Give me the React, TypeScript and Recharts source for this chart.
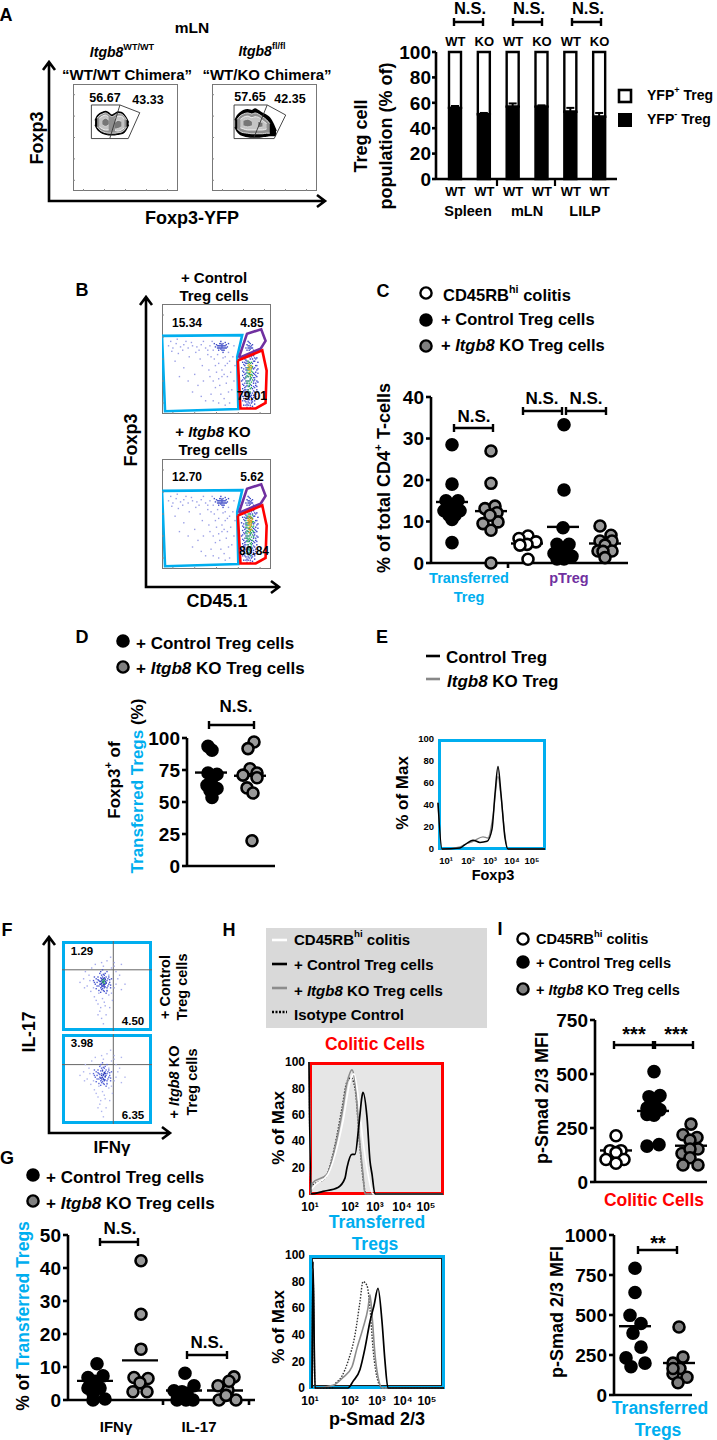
import React from "react";
import {
  AreaChart,
  Area,
  Bar,
  BarChart,
  ErrorBar,
  Line,
  LineChart,
  ReferenceLine,
  Scatter,
  ScatterChart,
  XAxis,
  YAxis,
} from "recharts";

const FONT = '"Liberation Sans", Arial, sans-serif';
const BLUE = "#00aeef";
const RED = "#ff0000";
const PURPLE = "#7030a0";
const GREY = "#999999";
const DARK_GREY = "#808080";

// Panel A stacked bars
const barLower = ["WT", "WT", "WT", "WT", "WT", "WT"];
const barUpper = ["WT", "KO", "WT", "KO", "WT", "KO"];
const yfpNeg = [56, 51, 57, 57, 53, 49];
const yfpNegErr = [1.5, 1, 2.5, 1, 3, 3];
const yfpPos = [44, 49, 43, 43, 47, 51];

// Panel A contours
const contourX = [21, 23, 25, 28, 31, 34, 37, 40, 43, 46, 49, 51, 53];
const c1Outer = [[62, 66], [58, 70], [56, 72], [54, 73.5], [53, 74.5], [52.5, 73], [52.5, 71], [52.5, 72.5], [53, 74], [53.5, 73.5], [55, 71], [58, 68], [62, 64]];
const c1Mid = [null, [60, 68], [57.5, 70.5], [55.5, 72], [54.5, 73], [54, 71.5], [54, 69.5], [54, 71], [54.5, 72.5], [55, 72], [57, 69.5], [60, 66.5], null];
const c1Ring = [null, null, [60, 68], [58, 70], [57, 71], [57, 69], null, [56.5, 68], [56, 70], [57, 70], [59, 67], null, null];
const c1Core = [null, null, null, [62, 66], [60.5, 68], [62, 66], null, [58, 64], [58.5, 66], [60, 65], null, null, null];
const c2X = [22, 24, 27, 30, 34, 38, 41, 44, 48, 52, 55, 58, 61];
const c2Outer = [[60, 66], [56, 70], [53, 73], [52, 75], [51, 76], [50.5, 75], [50.5, 76.5], [50.5, 75], [51, 72.5], [51.5, 70.5], [52, 68], [52, 63], [52, 56]];
const c2Mid = [null, [58, 67], [55.5, 70.5], [54.5, 72], [54, 73], [53.5, 72], [53.5, 73], [53.5, 72], [53.5, 69.5], [54, 66.5], [54, 63], null, null];
const c2Ring = [null, null, [59, 67], [58, 69], [57, 70], [57, 68.5], [57, 69.5], [57, 69], [57, 66], [58, 63], null, null, null];
const c2Core = [null, null, null, [61, 66], [60, 67], [61, 65], null, [59, 65], [60, 64], null, null, null, null];

// Panel A gates
const a1GateLeft = [[17.5, 80.4], [44.7, 80.4], [35, 49], [17.5, 49], [17.5, 80.4]];
const a1GateRight = [[44.7, 80.4], [63.6, 73.2], [52.6, 49], [35, 49]];
const a2GateLeft = [[21, 80.4], [52.6, 80.4], [39.5, 49], [21, 49], [21, 80.4]];
const a2GateRight = [[52.6, 80.4], [70.2, 71], [59.2, 49], [39.5, 49]];

// Panel B gates
const bGateTreg = [[0, 71], [73.6, 71.7], [69, 52], [70, 4.6], [2.8, 2.5], [0, 71]];
const bGatePTreg = [[70.5, 51], [78, 73], [91, 77], [95, 66.5], [90.5, 59.4], [70.5, 51]];
const bGateColitic = [[69.6, 48.6], [92, 57.8], [96, 39.4], [95, 10], [86, 5], [72, 5], [69.6, 48.6]];

// Panel B events
const bSparse = [[6, 62], [10, 60], [13, 64], [17, 61], [20, 63], [24, 60], [28, 62], [32, 61], [36, 63], [40, 60], [44, 62], [47, 58], [15, 55], [25, 52], [35, 50], [42, 54], [48, 50], [52, 46], [55, 40], [58, 44], [50, 38], [60, 34], [47, 30], [53, 26], [62, 48], [64, 22], [57, 14], [45, 18], [38, 30], [30, 36], [20, 42], [12, 48], [28, 20], [40, 12], [52, 10], [62, 10], [8, 66], [22, 66], [34, 58], [46, 66], [66, 62], [61, 56], [56, 51], [49, 44], [43, 40], [59, 28], [54, 18], [63, 38], [9, 57], [14, 68], [19, 58], [27, 65], [31, 56], [38, 66], [42, 58], [45, 52], [51, 54], [58, 52], [60, 46], [65, 52], [67, 44], [55, 34], [57, 36], [52, 32], [49, 24], [61, 20], [66, 30], [44, 34], [37, 44], [33, 26], [24, 30], [16, 34], [47, 12], [58, 8], [36, 16]];
const bHaze = [[55, 61], [54, 62], [56, 60], [53, 60], [57, 62], [55, 63], [52, 62], [58, 60], [54, 59], [56, 64], [51, 60], [59, 63], [53, 64], [57, 58], [55, 58], [50, 63], [60, 61], [49, 61], [52, 58], [58, 65], [54, 66], [56, 56], [48, 64], [61, 64], [80, 62], [79, 60], [81, 64], [78, 63], [82, 60], [80, 58], [83, 63], [77, 60], [79, 66], [84, 58], [54, 60], [55, 62], [56, 62], [53, 62], [57, 60], [52, 60], [58, 62], [55, 60], [54, 64], [56, 58], [51, 62], [59, 60], [81, 61], [80, 60], [79, 62], [82, 62], [81, 59], [78, 58], [80, 65], [83, 60]];
const bColumn = [[75, 52], [79, 54], [84, 53], [87, 51], [77, 49], [81, 50], [85, 48], [74, 47], [78, 46], [83, 46], [88, 47], [76, 44], [80, 43], [86, 44], [73, 42], [78, 40], [84, 41], [88, 41], [75, 38], [80, 37], [86, 38], [74, 35], [79, 34], [83, 35], [87, 34], [76, 32], [81, 31], [85, 31], [73, 30], [78, 28], [84, 28], [88, 29], [75, 26], [80, 25], [86, 26], [74, 23], [79, 22], [83, 23], [87, 22], [76, 20], [81, 19], [85, 20], [73, 18], [78, 16], [84, 17], [75, 14], [80, 13], [86, 14], [77, 11], [82, 10], [85, 9], [79, 8], [75, 8], [83, 7], [77, 46], [82, 44], [76, 36], [82, 33], [77, 30], [82, 26], [77, 18], [82, 15], [79, 42], [79, 30], [84, 37], [76, 24], [86, 18], [83, 50], [80, 47], [78, 52]];
const bColumnFill = [[76, 50], [85, 51], [78, 48], [87, 44], [75, 45], [85, 42], [77, 42], [75, 41], [74, 39], [77, 37], [85, 36], [88, 37], [75, 33], [77, 34], [85, 33], [74, 31], [84, 30], [76, 28], [86, 28], [74, 27], [78, 26], [84, 25], [76, 22], [85, 24], [75, 21], [77, 22], [84, 21], [74, 20], [78, 19], [83, 19], [86, 16], [76, 17], [75, 16], [79, 15], [83, 13], [77, 14], [85, 12], [76, 12], [79, 11], [83, 11], [78, 9], [81, 8], [80, 10], [84, 15], [82, 12], [81, 16], [79, 13], [80, 18], [77, 25], [84, 33], [77, 40], [83, 42], [76, 47], [84, 48], [80, 52], [82, 52], [77, 52], [81, 54], [86, 50], [87, 40], [87, 30], [87, 25], [86, 35], [79, 20], [82, 17], [77, 8], [74, 12], [74, 16], [81, 6], [78, 6]];
const bGreen = [[79, 46], [81, 44], [80, 40], [82, 41], [78, 38], [81, 36], [83, 38], [79, 34], [81, 32], [78, 30], [80, 28], [82, 29], [79, 25], [81, 23], [80, 20], [78, 42], [82, 47], [79, 18], [83, 31], [77, 33], [80, 42], [82, 39], [79, 37], [81, 34], [80, 30], [82, 33], [78, 35], [80, 26], [82, 24], [79, 22], [81, 27], [83, 43], [79, 48], [81, 46], [78, 28], [81, 20], [80, 36], [83, 35], [79, 40], [82, 36]];
const bHot = [[80, 45], [81, 42], [80, 38], [82, 44], [81, 40], [79, 41], [81, 35], [80, 43], [79, 44], [82, 42], [80, 41], [81, 38]];
const bGreenKo = [[79, 50], [81, 48], [83, 49], [77, 44], [84, 43], [77, 38], [84, 34], [78, 25], [82, 22], [80, 15], [78, 14], [81, 12], [78, 47], [83, 46], [80, 50], [77, 41], [84, 39], [78, 32], [84, 29], [77, 28], [83, 26], [79, 19], [82, 18], [80, 17], [79, 27], [82, 20]];
const bHotKo = [[80, 48], [82, 46], [79, 44], [81, 38], [82, 36], [80, 33], [81, 47], [83, 45], [79, 46], [82, 40], [80, 36], [81, 44], [82, 43], [80, 42]];

// Panel F events
const fSparse = [[30, 62], [35, 48], [28, 50], [55, 70], [52, 62], [60, 66], [58, 48], [24, 58], [20, 54], [40, 30], [42, 22], [45, 36], [48, 28], [44, 14], [52, 40], [37, 74], [44, 76], [50, 78], [62, 58], [66, 74], [70, 52], [36, 38], [56, 34], [46, 8], [41, 42], [50, 44], [33, 70], [58, 76], [26, 66], [32, 44], [38, 34], [47, 32], [43, 26], [49, 18], [55, 42], [60, 52], [64, 62], [58, 72], [54, 82], [46, 72], [31, 56], [25, 48], [66, 46], [40, 18], [53, 26]];
const fCloud = [[46, 54], [44, 56], [48, 52], [42, 52], [50, 56], [45, 60], [47, 48], [41, 56], [51, 50], [43, 48], [49, 60], [39, 54], [53, 54], [46, 63], [44, 46], [40, 60], [52, 60], [37, 52], [38, 47], [54, 48], [42, 64], [50, 66], [47, 44], [35, 56], [55, 58], [43, 43], [49, 42], [45, 68], [41, 45], [36, 60], [48, 58], [44, 51], [46, 50], [43, 59], [47, 56], [50, 48], [42, 55], [44, 49], [48, 49], [49, 54], [45, 47], [41, 50], [40, 57], [51, 58], [52, 52], [39, 50], [47, 62], [44, 62], [48, 64], [43, 66], [46, 45], [50, 45], [38, 58], [36, 54], [53, 57], [54, 51]];
const fCore = [[46, 55], [47, 52], [45, 57], [48, 55], [44, 53], [46, 58], [45, 50], [47, 50], [48, 57], [44, 58], [43, 55], [46, 52], [49, 53], [45, 54], [47, 59], [43, 52]];
const fCoreKo = [[46, 55], [45, 52], [47, 57], [44, 54], [48, 53], [46, 50], [45, 59], [47, 49], [43, 51], [48, 56]];
const fGreen = [[46, 54], [47, 56], [45, 55], [46, 57], [47, 53]];

// Histogram curves, x is the flow channel
const ePoints = { ctrl: [[0, 42], [4, 0], [22, 1], [27, 4], [35, 8], [42, 6], [49, 7], [54, 18], [57, 50], [60, 75], [63, 50], [67, 10], [70, 0], [107, 0]], ko: [[0, 42], [4, 0], [22, 2], [29, 5], [35, 7], [45, 11], [50, 10], [55, 30], [60, 66], [63, 48], [67, 12], [70, 0], [107, 0]] };
const colWhite = [[0, 100], [2, 0], [3, 4], [19, 15], [29, 38], [34, 55], [41, 85], [45, 91], [49, 75], [54, 40], [59, 15], [64, 0], [134, 0]];
const colCtrl = [[0, 100], [2, 0], [14, 2], [29, 5], [36, 12], [38, 20], [43, 30], [46, 30], [50, 53], [53, 74], [54, 77], [58, 58], [61, 25], [63, 15], [66, 0], [134, 0]];
const colKo = [[0, 100], [2, 0], [3, 8], [18, 15], [26, 35], [33, 61], [38, 84], [43, 94], [46, 85], [51, 37], [54, 15], [56, 0], [134, 0]];
const colIso = [[0, 100], [2, 0], [3, 6], [16, 12], [26, 37], [33, 65], [38, 85], [42, 88], [46, 80], [51, 35], [54, 12], [57, 0], [134, 0]];
const trCtrl = [[3, 0], [4, 95], [6, 0], [39, 0], [44, 5], [51, 14], [56, 30], [61, 50], [65, 62], [69, 75], [73, 50], [76, 20], [79, 0], [135, 0]];
const trKo = [[3, 0], [4, 90], [6, 0], [24, 2], [34, 8], [43, 16], [48, 30], [54, 45], [59, 60], [61, 70], [63, 55], [66, 25], [70, 5], [73, 0], [135, 0]];
const trIso = [[3, 0], [4, 85], [6, 0], [23, 0], [26, 3], [33, 9], [39, 20], [46, 40], [51, 65], [54, 80], [58, 77], [61, 60], [64, 30], [69, 5], [73, 0], [135, 0]];

const histYTicks = [0, 20, 40, 60, 80, 100];
const decadeLabels = ["10¹", "10²", "10³", "10⁴", "10⁵"];
const edgeTicks = [0.1, 0.3, 0.5, 0.7, 0.9];

// Panel C
const cColumns = [21, 60, 96, 132, 174];
const cCtrlTr = [28.5, 19, 4.9, 15, 15, 12.6, 12.6, 14, 11.5, 11.5, 10.5];
const cCtrlTrJit = [0, 0, 0, -6, 6, -8, 8, 0, -3, 3, 0];
const cKoTr = [27, 19.2, 13.1, 13.7, 12.1, 9.5, 9.9, 7.9, 11.5, 0];
const cKoTrJit = [0, 0, -6, 4, 6, -8, 7, 0, -1, 0];
const cHi = [6.5, 5.9, 5.1, 4.5, 4.3, 0.9];
const cHiJit = [1, -8, 9, 0, -7, 1];
const cCtrlP = [33.3, 17.6, 8.5, 4.5, 4.5, 2.3, 1.6, 2.7, 2.3, 1, 1];
const cCtrlPJit = [1, 1, 0, -6, 6, -9, 9, -3, 4, 1, -6];
const cKoP = [8.9, 6.7, 5.3, 5.3, 4.3, 2.9, 2.9, 2.8, 1.3];
const cKoPJit = [-5, 6, -5, 7, 0, -7, 7, -2, 0];
const cMedians = [14.7, 12.5, 4.7, 8.7, 4.7];

// Panel D
const dColumns = [24, 63];
const dCtrl = [93.5, 90.4, 72.7, 71.7, 63, 60.5, 59, 53.5, 69.6];
const dCtrlJit = [-3, 1, -3, 6, -4, 6, -1, 1, 2];
const dKo = [96.9, 91.7, 76, 71, 72.7, 69, 61, 57, 19.7];
const dKoJit = [4, -2, 0, -7, 7, 7, -3, 3, 2];
const dMedians = [73, 70.5];

// Panel G
const gColumns = [27, 72, 116, 157];
const gCtrlIfn = [11, 6.8, 7.3, 5.7, 3.6, 3.6, 2, 0, 0.3];
const gCtrlIfnJit = [2, -7, 8, 0, -7, 5, -2, -2, 10];
const gKoIfn = [42.2, 26, 15.4, 6.8, 6.5, 5.2, 2.5, 2.5];
const gKoIfnJit = [1, 1, 1, -6, 8, 0, -7, 7];
const gCtrlIl = [8.1, 4.3, 2.8, 2.5, 0, 0, 0, 2];
const gCtrlIlJit = [1, 10, -10, -2, -7, 2, 9, 3];
const gKoIl = [7, 4.3, 3, 0, 0, 1.4, 5.7];
const gKoIlJit = [9, -7, 3, -6, 11, 1, 4];
const gMedians = [5.8, 12, 2.9, 2.9];

// Panel I
const i1Columns = [21, 58, 96];
const i1Hi = [214, 145, 145, 136, 104, 104, 87];
const i1HiJit = [0, -6, 5, 0, -10, 8, 0];
const i1Ctrl = [511, 400, 395, 342, 359, 334, 313, 309, 166, 173];
const i1CtrlJit = [1, 7, -4, -6, 2, 7, -6, 1, -6, 6];
const i1Ko = [268, 219, 206, 194, 132, 153, 153, 112, 79, 79];
const i1KoJit = [0, -8, 6, -1, -9, 7, -1, -1, -8, 7];
const i1Medians = [146, 329, 168];
const i2Columns = [21, 65];
const i2Ctrl = [792, 641, 498, 447, 387, 299, 232, 177, 199];
const i2CtrlJit = [0, 0, -5, 6, -2, 6, -9, -4, 10];
const i2Ko = [425, 237, 199, 166, 133, 111, 77, 166];
const i2KoJit = [0, 4, -6, 1, -6, 8, -1, -6];
const i2Medians = [430, 200];

const barData = barLower.map((lower, i) => ({
  lower,
  upper: barUpper[i],
  neg: yfpNeg[i],
  err: yfpNegErr[i],
  pos: yfpPos[i],
}));

const toPoints = (list: any[]) => list.map(([x, y]) => ({ x, y }));
const swarm = (center: number, values: number[], jitter: number[]) =>
  values.map((y, i) => ({ x: center + jitter[i], y }));
const contourTable = (xs: number[], ...levels: any[][]) =>
  xs.map((x, i) => ({ x, outer: levels[0][i], mid: levels[1][i], ring: levels[2][i], core: levels[3][i] }));

const abs = (left: number, top: number): React.CSSProperties => ({ position: "absolute", left, top });

function Box({ left, top, width, height, color, size = 1, bg = "transparent" }: any) {
  return (
    <div
      style={{
        ...abs(left, top),
        width,
        height,
        boxSizing: "border-box",
        border: `${size}px solid ${color}`,
        background: bg,
      }}
    />
  );
}

// Flow cytometry panel: coloured events and gates on a 0-100 biaxial plot
function FlowPlot({ left, top, width, height, layers, gates = [], quad }: any) {
  return (
    <div style={abs(left, top)}>
      <ScatterChart width={width} height={height} margin={{ top: 0, right: 0, bottom: 0, left: 0 }} style={{ overflow: "visible" }}>
        <XAxis type="number" dataKey="x" domain={[0, 100]} hide />
        <YAxis type="number" dataKey="y" domain={[0, 100]} hide />
        {quad && <ReferenceLine x={quad[0]} stroke="#666" strokeWidth={1} />}
        {quad && <ReferenceLine y={quad[1]} stroke="#666" strokeWidth={1} />}
        {layers.map((layer: any, i: number) => (
          <Scatter
            key={i}
            data={toPoints(layer.points)}
            isAnimationActive={false}
            shape={(p: any) => <rect x={p.cx - 0.7} y={p.cy - 0.7} width={1.4} height={1.4} fill={layer.color} />}
          />
        ))}
        {gates.map((gate: any, i: number) => (
          <Scatter
            key={`g${i}`}
            data={toPoints(gate.points)}
            isAnimationActive={false}
            line={{ stroke: gate.color, strokeWidth: gate.width }}
            lineType="joint"
            shape={() => <g />}
          />
        ))}
      </ScatterChart>
    </div>
  );
}

function ContourPlot({ left, top, width, height, table, edge }: any) {
  return (
    <div style={abs(left, top)}>
      <AreaChart width={width} height={height} data={table} margin={{ top: 0, right: 0, bottom: 0, left: 0 }}>
        <XAxis type="number" dataKey="x" domain={[0, 100]} hide />
        <YAxis type="number" domain={[0, 100]} hide />
        <Area dataKey="outer" type="monotone" fill="#000" fillOpacity={1} stroke="#000" strokeWidth={edge} isAnimationActive={false} dot={false} activeDot={false} />
        <Area dataKey="mid" type="monotone" fill="#8f8f8f" fillOpacity={1} stroke="#fff" strokeWidth={0.8} isAnimationActive={false} dot={false} activeDot={false} />
        <Area dataKey="ring" type="monotone" fill="#c4c4c4" fillOpacity={1} stroke="#fff" strokeWidth={0.8} isAnimationActive={false} dot={false} activeDot={false} />
        <Area dataKey="core" type="monotone" fill="#777" fillOpacity={1} stroke="#eee" strokeWidth={0.6} isAnimationActive={false} dot={false} activeDot={false} />
      </AreaChart>
    </div>
  );
}

function Histogram({ left, top, width, height, xTicks, series, yFont, xFont }: any) {
  const padLeft = 34;
  const padBottom = 24;
  return (
    <div style={abs(left - padLeft, top - 8)}>
      <LineChart
        width={width + padLeft + 8}
        height={height + padBottom + 8}
        margin={{ top: 8, right: 8, bottom: 0, left: 0 }}
      >
        <XAxis
          type="number"
          dataKey="x"
          domain={[0, width]}
          ticks={xTicks}
          interval={0}
          height={padBottom}
          axisLine={false}
          tickLine={false}
          tickMargin={2}
          tickFormatter={(_: any, i: number) => decadeLabels[i]}
          tick={{ fontFamily: FONT, fontWeight: 700, fontSize: xFont, fill: "#000" }}
        />
        <YAxis
          type="number"
          domain={[0, 100]}
          ticks={histYTicks}
          interval={0}
          width={padLeft}
          axisLine={false}
          tickLine={false}
          tickMargin={1}
          tickSize={3}
          tick={{ fontFamily: FONT, fontWeight: 700, fontSize: yFont, fill: "#000" }}
        />
        {series.map((s: any, i: number) => (
          <Line
            key={i}
            data={toPoints(s.points)}
            dataKey="y"
            type="monotone"
            stroke={s.color}
            strokeWidth={s.width}
            strokeDasharray={s.dash}
            dot={false}
            activeDot={false}
            isAnimationActive={false}
          />
        ))}
      </LineChart>
    </div>
  );
}

// Dot plot with one column of circles per group and a median bar
function SwarmChart({ left, top, width, height, yMax, yTicks, groups, fontSize = 19, xMarks = [], medianWidth = 16 }: any) {
  const padLeft = 50;
  const axis = { stroke: "#000", strokeWidth: 2.6 };
  return (
    <div style={abs(left - padLeft, top - 12)}>
      <ScatterChart
        width={width + padLeft + 12}
        height={height + 12 + 16}
        margin={{ top: 12, right: 12, bottom: 0, left: 0 }}
      >
        <XAxis
          type="number"
          dataKey="x"
          domain={[0, width]}
          height={16}
          axisLine={axis}
          ticks={xMarks}
          interval={0}
          tickSize={5}
          tickLine={axis}
          tick={xMarks.length ? { fontSize: 0 } : false}
          tickFormatter={() => ""}
        />
        <YAxis
          type="number"
          dataKey="y"
          domain={[0, yMax]}
          ticks={yTicks}
          interval={0}
          width={padLeft}
          axisLine={axis}
          tickLine={axis}
          tickSize={5}
          tickMargin={2}
          tick={{ fontFamily: FONT, fontWeight: 700, fontSize, fill: "#000" }}
        />
        {groups.map((g: any, i: number) => (
          <Scatter
            key={i}
            data={g.points}
            isAnimationActive={false}
            shape={(p: any) => <circle cx={p.cx} cy={p.cy} r={5.5} fill={g.fill} stroke="#000" strokeWidth={2.6} />}
          />
        ))}
        {groups.map((g: any, i: number) => (
          <ReferenceLine
            key={`m${i}`}
            segment={[
              { x: g.center - medianWidth, y: g.median },
              { x: g.center + medianWidth, y: g.median },
            ]}
            stroke="#000"
            strokeWidth={2.4}
            ifOverflow="visible"
          />
        ))}
      </ScatterChart>
    </div>
  );
}

function T({ x, y, size = 14, color = "#000", anchor = "middle", rot = false, italic = false, children }: any) {
  return (
    <text
      x={x}
      y={y}
      fontFamily={FONT}
      fontWeight={700}
      fontSize={size}
      fontStyle={italic ? "italic" : undefined}
      fill={color}
      textAnchor={anchor}
      dominantBaseline="central"
      transform={rot ? `rotate(-90 ${x} ${y})` : undefined}
    >
      {children}
    </text>
  );
}

const Sup = ({ size, children }: any) => (
  <tspan fontSize={size * 0.65} baselineShift="super">
    {children}
  </tspan>
);
const It = ({ children }: any) => <tspan fontStyle="italic">{children}</tspan>;

function Bracket({ x1, x2, y }: any) {
  return <path d={`M${x1} ${y - 4}V${y + 4}M${x1} ${y}H${x2}M${x2} ${y - 4}V${y + 4}`} stroke="#000" strokeWidth={2.4} fill="none" />;
}

function AxesArrows({ x, top, y, right }: any) {
  return (
    <path
      d={`M${x - 6} ${top + 8}L${x} ${top}L${x + 6} ${top + 8}M${x} ${top}V${y}H${right}M${right - 8} ${y - 6}L${right} ${y}L${right - 8} ${y + 6}`}
      stroke="#000"
      strokeWidth={2.6}
      fill="none"
    />
  );
}

function EdgeMarks({ left, top, width, height }: any) {
  const path = edgeTicks
    .map((f) => `M${left + f * width} ${top + height}v-2M${left} ${top + f * height}h2`)
    .join("");
  return <path d={path} stroke="#888" strokeWidth={1} fill="none" />;
}

const LegendDot = ({ x, y, fill, r = 5.6 }: any) => <circle cx={x} cy={y} r={r} fill={fill} stroke="#000" strokeWidth={2.4} />;

function StackedBars() {
  const axis = { stroke: "#000", strokeWidth: 2.6 };
  const tick = { fontFamily: FONT, fontWeight: 700, fontSize: 13, fill: "#000" };
  const padLeft = 50;
  return (
    <div style={abs(436 - padLeft, 52 - 18)}>
      <BarChart
        width={181 + padLeft + 4}
        height={127 + 18 + 20}
        data={barData}
        barSize={12}
        margin={{ top: 0, right: 4, bottom: 0, left: 0 }}
      >
        <XAxis xAxisId="low" dataKey="lower" height={20} axisLine={axis} tickLine={false} tick={tick} tickMargin={2} interval={0} padding={{ left: 5, right: 3 }} />
        <XAxis xAxisId="up" dataKey="upper" orientation="top" height={18} axisLine={false} tickLine={false} tick={tick} tickMargin={0} interval={0} padding={{ left: 5, right: 3 }} />
        <YAxis
          type="number"
          domain={[0, 100]}
          ticks={[0, 20, 40, 60, 80, 100]}
          interval={0}
          width={padLeft}
          axisLine={axis}
          tickLine={axis}
          tickSize={4}
          tickMargin={1}
          tick={{ fontFamily: FONT, fontWeight: 700, fontSize: 19, fill: "#000" }}
        />
        <Bar xAxisId="low" dataKey="neg" stackId="a" fill="#000" stroke="#000" strokeWidth={2.4} isAnimationActive={false}>
          <ErrorBar dataKey="err" direction="y" width={4} stroke="#000" strokeWidth={2} />
        </Bar>
        <Bar xAxisId="low" dataKey="pos" stackId="a" fill="none" stroke="#000" strokeWidth={2.4} isAnimationActive={false} />
      </BarChart>
    </div>
  );
}

export default function App() {
  const table1 = contourTable(contourX, c1Outer, c1Mid, c1Ring, c1Core);
  const table2 = contourTable(c2X, c2Outer, c2Mid, c2Ring, c2Core);
  const aGate = "#333";
  const bGates = [
    { points: bGateTreg, color: BLUE, width: 2.6 },
    { points: bGatePTreg, color: PURPLE, width: 2.6 },
    { points: bGateColitic, color: RED, width: 2.6 },
  ];
  const bLayers = [
    { points: bSparse, color: "#9a9fe6" },
    { points: bHaze, color: "#4450c8" },
    { points: bColumn, color: "#3442c8" },
    { points: bColumnFill, color: "#4a58d4" },
    { points: bGreen, color: "#2fb060" },
    { points: bHot, color: "#d8b820" },
  ];
  const bLayersKo = [
    ...bLayers,
    { points: bGreenKo, color: "#30b868" },
    { points: bHotKo, color: "#e09020" },
  ];

  return (
    <div style={{ ...abs(0, 0), width: 717, height: 1440, background: "#fff", overflow: "hidden" }}>
      {/* A */}
      <Box left={73} top={84} width={105} height={107} color="#777" />
      <Box left={212} top={84} width={105} height={107} color="#777" />
      <ContourPlot left={73} top={84} width={105} height={107} table={table1} edge={1.2} />
      <ContourPlot left={212} top={84} width={105} height={107} table={table2} edge={1.6} />
      <FlowPlot
        left={73}
        top={84}
        width={105}
        height={107}
        layers={[]}
        gates={[
          { points: a1GateLeft, color: aGate, width: 0.9 },
          { points: a1GateRight, color: aGate, width: 0.9 },
        ]}
      />
      <FlowPlot
        left={212}
        top={84}
        width={105}
        height={107}
        layers={[]}
        gates={[
          { points: a2GateLeft, color: aGate, width: 0.9 },
          { points: a2GateRight, color: aGate, width: 0.9 },
        ]}
      />
      <StackedBars />

      {/* B */}
      <Box left={162} top={304} width={109} height={110} color="#777" />
      <Box left={162} top={459} width={109} height={110} color="#777" />
      <FlowPlot left={162} top={304} width={109} height={110} layers={bLayers} gates={bGates} />
      <FlowPlot left={162} top={459} width={109} height={110} layers={bLayersKo} gates={bGates} />

      {/* C */}
      <SwarmChart
        left={431}
        top={397}
        width={197}
        height={166}
        yMax={40}
        yTicks={[0, 10, 20, 30, 40]}
        xMarks={[77]}
        groups={[
          { center: cColumns[0], points: swarm(cColumns[0], cCtrlTr, cCtrlTrJit), fill: "#000", median: cMedians[0] },
          { center: cColumns[1], points: swarm(cColumns[1], cKoTr, cKoTrJit), fill: GREY, median: cMedians[1] },
          { center: cColumns[2], points: swarm(cColumns[2], cHi, cHiJit), fill: "#fff", median: cMedians[2] },
          { center: cColumns[3], points: swarm(cColumns[3], cCtrlP, cCtrlPJit), fill: "#000", median: cMedians[3] },
          { center: cColumns[4], points: swarm(cColumns[4], cKoP, cKoPJit), fill: GREY, median: cMedians[4] },
        ]}
      />

      {/* D */}
      <SwarmChart
        left={187}
        top={738}
        width={88}
        height={128}
        yMax={100}
        yTicks={[0, 25, 50, 75, 100]}
        groups={[
          { center: dColumns[0], points: swarm(dColumns[0], dCtrl, dCtrlJit), fill: "#000", median: dMedians[0] },
          { center: dColumns[1], points: swarm(dColumns[1], dKo, dKoJit), fill: GREY, median: dMedians[1] },
        ]}
      />

      {/* E */}
      <Box left={438} top={739} width={108} height={111} color={BLUE} size={3} />
      <Histogram
        left={438}
        top={739}
        width={107}
        height={110}
        xTicks={[8, 30, 52, 74, 94]}
        yFont={9.5}
        xFont={9.5}
        series={[
          { points: ePoints.ko, color: "#888", width: 1.3 },
          { points: ePoints.ctrl, color: "#000", width: 1.5 },
        ]}
      />

      {/* F */}
      <Box left={62} top={941} width={90} height={90} color={BLUE} size={3} />
      <Box left={62} top={1034} width={90} height={90} color={BLUE} size={3} />
      <FlowPlot
        left={62}
        top={941}
        width={90}
        height={90}
        quad={[57, 68]}
        layers={[
          { points: fSparse, color: "#a4aaec" },
          { points: fCloud, color: "#4a58d0" },
          { points: fCore, color: "#2838b8" },
          { points: fGreen, color: "#30b060" },
        ]}
      />
      <FlowPlot
        left={62}
        top={1034}
        width={90}
        height={90}
        quad={[57, 66]}
        layers={[
          { points: fSparse, color: "#b0b6ee" },
          { points: fCloud, color: "#5a68d8" },
          { points: fCoreKo, color: "#2838b8" },
        ]}
      />

      {/* G */}
      <SwarmChart
        left={68}
        top={1235}
        width={187}
        height={165}
        yMax={50}
        yTicks={[0, 10, 20, 30, 40, 50]}
        xMarks={[95, 181]}
        medianWidth={18}
        groups={[
          { center: gColumns[0], points: swarm(gColumns[0], gCtrlIfn, gCtrlIfnJit), fill: "#000", median: gMedians[0] },
          { center: gColumns[1], points: swarm(gColumns[1], gKoIfn, gKoIfnJit), fill: GREY, median: gMedians[1] },
          { center: gColumns[2], points: swarm(gColumns[2], gCtrlIl, gCtrlIlJit), fill: "#000", median: gMedians[2] },
          { center: gColumns[3], points: swarm(gColumns[3], gKoIl, gKoIlJit), fill: GREY, median: gMedians[3] },
        ]}
      />

      {/* H */}
      <div style={{ ...abs(266, 928), width: 221, height: 100, background: "#d9d9d9" }} />
      <Box left={309} top={1062} width={135} height={133} color={RED} size={3} bg="#e6e6e6" />
      <Histogram
        left={309}
        top={1062}
        width={134}
        height={132}
        xTicks={[1, 41, 66, 93, 117]}
        yFont={12}
        xFont={12}
        series={[
          { points: colIso, color: "#333", width: 1.5, dash: "1.5 1.5" },
          { points: colKo, color: "#8c8c8c", width: 1.6 },
          { points: colWhite, color: "#fff", width: 1.6 },
          { points: colCtrl, color: "#000", width: 1.7 },
        ]}
      />
      <Box left={309} top={1255} width={136} height={134} color={BLUE} size={3} />
      <div style={{ ...abs(312, 1258), width: 130, height: 128, boxSizing: "border-box", border: "1px solid #222" }} />
      <Histogram
        left={309}
        top={1255}
        width={135}
        height={133}
        xTicks={[1, 41, 68, 94, 118]}
        yFont={12}
        xFont={12}
        series={[
          { points: trIso, color: "#333", width: 1.4, dash: "1.5 1.5" },
          { points: trKo, color: "#8c8c8c", width: 1.6 },
          { points: trCtrl, color: "#000", width: 1.7 },
        ]}
      />

      {/* I */}
      <SwarmChart
        left={595}
        top={1020}
        width={112}
        height={162}
        yMax={750}
        yTicks={[0, 250, 500, 750]}
        groups={[
          { center: i1Columns[0], points: swarm(i1Columns[0], i1Hi, i1HiJit), fill: "#fff", median: i1Medians[0] },
          { center: i1Columns[1], points: swarm(i1Columns[1], i1Ctrl, i1CtrlJit), fill: "#000", median: i1Medians[1] },
          { center: i1Columns[2], points: swarm(i1Columns[2], i1Ko, i1KoJit), fill: DARK_GREY, median: i1Medians[2] },
        ]}
      />
      <SwarmChart
        left={614}
        top={1235}
        width={78}
        height={160}
        yMax={1000}
        yTicks={[0, 250, 500, 750, 1000]}
        groups={[
          { center: i2Columns[0], points: swarm(i2Columns[0], i2Ctrl, i2CtrlJit), fill: "#000", median: i2Medians[0] },
          { center: i2Columns[1], points: swarm(i2Columns[1], i2Ko, i2KoJit), fill: DARK_GREY, median: i2Medians[1] },
        ]}
      />

      {/* Labels, legends and brackets */}
      <svg width={717} height={1440} style={{ ...abs(0, 0), pointerEvents: "none" }}>
        <EdgeMarks left={73} top={84} width={105} height={107} />
        <EdgeMarks left={212} top={84} width={105} height={107} />
        <EdgeMarks left={162} top={304} width={109} height={110} />
        <EdgeMarks left={162} top={459} width={109} height={110} />

        <T x={6} y={15} size={18}>A</T>
        <T x={192} y={27} size={15.5}>mLN</T>
        <T x={122} y={52} size={14}><It>Itgb8</It><Sup size={14}>WT/WT</Sup></T>
        <T x={127} y={74} size={15}>“WT/WT Chimera”</T>
        <T x={262} y={51} size={14}><It>Itgb8</It><Sup size={14}>fl/fl</Sup></T>
        <T x={267} y={74} size={15}>“WT/KO Chimera”</T>
        <T x={105} y={98} size={12.5}>56.67</T>
        <T x={148} y={100} size={12.5}>43.33</T>
        <T x={250} y={97} size={12.5}>57.65</T>
        <T x={290} y={99} size={12.5}>42.35</T>
        <AxesArrows x={49} top={62} y={201} right={325} />
        <T x={37} y={138} size={18} rot>Foxp3</T>
        <T x={192} y={218} size={18}>Foxp3-YFP</T>

        <T x={470} y={8} size={16.5}>N.S.</T>
        <T x={529} y={8} size={16.5}>N.S.</T>
        <T x={588} y={8} size={16.5}>N.S.</T>
        <Bracket x1={454} x2={483} y={22} />
        <Bracket x1={513} x2={542} y={22} />
        <Bracket x1={572} x2={601} y={22} />
        <path d="M497 179V186M555 179V186" stroke="#000" strokeWidth={2.2} />
        <T x={361} y={136} size={18} rot>Treg cell</T>
        <T x={386} y={136} size={18} rot>population (% of)</T>
        <T x={468} y={211} size={14.5}>Spleen</T>
        <T x={527} y={211} size={14.5}>mLN</T>
        <T x={585} y={211} size={14.5}>LILP</T>
        <rect x={619} y={90} width={12} height={12} fill="#fff" stroke="#000" strokeWidth={2.6} />
        <rect x={618} y={113} width={14} height={14} fill="#000" />
        <T x={647} y={95} size={14} anchor="start">YFP<Sup size={14}>+</Sup> Treg</T>
        <T x={647} y={119} size={14} anchor="start">YFP<Sup size={14}>-</Sup> Treg</T>

        <T x={82} y={290} size={18}>B</T>
        <T x={214} y={277} size={15}>+ Control</T>
        <T x={214} y={295} size={15}>Treg cells</T>
        <T x={213} y={431} size={15}>+ <It>Itgb8</It> KO</T>
        <T x={213} y={449} size={15}>Treg cells</T>
        <AxesArrows x={146} top={297} y={587} right={279} />
        <T x={131} y={440} size={18} rot>Foxp3</T>
        <T x={217} y={601} size={18}>CD45.1</T>
        <T x={187} y={323} size={12}>15.34</T>
        <T x={252} y={323} size={12}>4.85</T>
        <T x={252} y={396} size={12}>79.01</T>
        <T x={187} y={477} size={12}>12.70</T>
        <T x={252} y={477} size={12}>5.62</T>
        <T x={254} y={551} size={12}>80.84</T>

        <T x={383} y={291} size={18}>C</T>
        <LegendDot x={426} y={293} fill="#fff" />
        <LegendDot x={426} y={320} fill="#000" />
        <LegendDot x={426} y={346} fill={DARK_GREY} />
        <T x={443} y={295} size={16.5} anchor="start">CD45RB<Sup size={16.5}>hi</Sup> colitis</T>
        <T x={441} y={319} size={16.5} anchor="start">+ Control Treg cells</T>
        <T x={441} y={345} size={16.5} anchor="start">+ <It>Itgb8</It> KO Treg cells</T>
        <T x={384} y={478} size={18} rot>% of total CD4<Sup size={18}>+</Sup> T-cells</T>
        <T x={474} y={416} size={17}>N.S.</T>
        <T x={542} y={398} size={17}>N.S.</T>
        <T x={586} y={398} size={17}>N.S.</T>
        <Bracket x1={454} x2={493} y={428} />
        <Bracket x1={523} x2={562} y={411} />
        <Bracket x1={566} x2={606} y={411} />
        <T x={469} y={578} size={14.5} color={BLUE}>Transferred</T>
        <T x={469} y={597} size={14.5} color={BLUE}>Treg</T>
        <T x={569} y={578} size={14.5} color={PURPLE}>pTreg</T>

        <T x={82} y={637} size={18}>D</T>
        <LegendDot x={123} y={641} fill="#000" />
        <LegendDot x={123} y={667} fill={DARK_GREY} />
        <T x={136} y={643} size={17} anchor="start">+ Control Treg cells</T>
        <T x={136} y={668} size={17} anchor="start">+ <It>Itgb8</It> KO Treg cells</T>
        <T x={114} y={780} size={17} rot>Foxp3<Sup size={17}>+</Sup> of</T>
        <T x={137} y={786} size={17} rot>
          <tspan fill={BLUE}>Transferred Tregs</tspan> (%)
        </T>
        <T x={236} y={706} size={17}>N.S.</T>
        <Bracket x1={209} x2={254} y={725} />

        <T x={382} y={637} size={18}>E</T>
        <path d="M426 656H440" stroke="#000" strokeWidth={2.6} />
        <path d="M426 679H440" stroke="#888" strokeWidth={2.6} />
        <T x={446} y={657} size={17} anchor="start">Control Treg</T>
        <T x={447} y={681} size={17} anchor="start"><It>Itgb8</It> KO Treg</T>
        <T x={402} y={793} size={17} rot>% of Max</T>
        <T x={493} y={875} size={14.5}>Foxp3</T>

        <T x={7} y={930} size={18}>F</T>
        <AxesArrows x={49} top={937} y={1133} right={170} />
        <T x={29} y={1032} size={17.5} rot>IL-17</T>
        <T x={112} y={1147} size={17}>IFNγ</T>
        <T x={82} y={951} size={11.5}>1.29</T>
        <T x={133} y={1021} size={11.5}>4.50</T>
        <T x={82} y={1043} size={11.5}>3.98</T>
        <T x={133} y={1115} size={11.5}>6.35</T>
        <T x={165} y={987} size={14.5} rot>+ Control</T>
        <T x={182} y={987} size={14.5} rot>Treg cells</T>
        <T x={174} y={1082} size={14.5} rot>+ <It>Itgb8</It> KO</T>
        <T x={192} y={1082} size={14.5} rot>Treg cells</T>

        <T x={7} y={1158} size={18}>G</T>
        <LegendDot x={33} y={1175} fill="#000" />
        <LegendDot x={33} y={1201} fill={DARK_GREY} />
        <T x={46} y={1177} size={17} anchor="start">+ Control Treg cells</T>
        <T x={46} y={1203} size={17} anchor="start">+ <It>Itgb8</It> KO Treg cells</T>
        <T x={23} y={1316} size={17.5} rot>
          % of <tspan fill={BLUE}>Transferred Tregs</tspan>
        </T>
        <T x={120} y={1228} size={17}>N.S.</T>
        <T x={207} y={1342} size={17}>N.S.</T>
        <Bracket x1={100} x2={138} y={1242} />
        <Bracket x1={187} x2={227} y={1355} />
        <T x={116} y={1426} size={15}>IFNγ</T>
        <T x={199} y={1426} size={15}>IL-17</T>

        <T x={229} y={930} size={18}>H</T>
        <path d="M272 940H287" stroke="#fff" strokeWidth={2.6} />
        <path d="M272 964H287" stroke="#000" strokeWidth={2.6} />
        <path d="M272 988H287" stroke="#8c8c8c" strokeWidth={2.6} />
        <path d="M272 1012H287" stroke="#000" strokeWidth={2.6} strokeDasharray="2 1.5" />
        <T x={294} y={939} size={15} anchor="start">CD45RB<Sup size={15}>hi</Sup> colitis</T>
        <T x={294} y={964} size={15} anchor="start">+ Control Treg cells</T>
        <T x={294} y={990} size={15} anchor="start">+ <It>Itgb8</It> KO Treg cells</T>
        <T x={294} y={1014} size={15} anchor="start">Isotype Control</T>
        <T x={375} y={1044} size={17.5} color={RED}>Colitic Cells</T>
        <T x={278} y={1128} size={17} rot>% of Max</T>
        <T x={377} y={1222} size={17.5} color={BLUE}>Transferred</T>
        <T x={375} y={1244} size={17.5} color={BLUE}>Tregs</T>
        <T x={278} y={1327} size={17} rot>% of Max</T>
        <T x={377} y={1419} size={18}>p-Smad 2/3</T>

        <T x={500} y={929} size={18}>I</T>
        <LegendDot x={523} y={939} fill="#fff" />
        <LegendDot x={523} y={962} fill="#000" />
        <LegendDot x={523} y={989} fill={DARK_GREY} />
        <T x={536} y={939} size={14.5} anchor="start">CD45RB<Sup size={14.5}>hi</Sup> colitis</T>
        <T x={536} y={963} size={14.5} anchor="start">+ Control Treg cells</T>
        <T x={536} y={990} size={14.5} anchor="start">+ <It>Itgb8</It> KO Treg cells</T>
        <T x={542} y={1098} size={18} rot>p-Smad 2/3 MFI</T>
        <T x={634} y={1034} size={20}>***</T>
        <T x={676} y={1034} size={20}>***</T>
        <Bracket x1={614} x2={653} y={1045} />
        <Bracket x1={655} x2={693} y={1045} />
        <T x={654} y={1200} size={17.5} color={RED}>Colitic Cells</T>
        <T x={557} y={1312} size={18} rot>p-Smad 2/3 MFI</T>
        <T x={658} y={1243} size={20}>**</T>
        <Bracket x1={638} x2={677} y={1250} />
        <T x={660} y={1408} size={17.5} color={BLUE}>Transferred</T>
        <T x={658} y={1430} size={17.5} color={BLUE}>Tregs</T>
      </svg>
    </div>
  );
}
